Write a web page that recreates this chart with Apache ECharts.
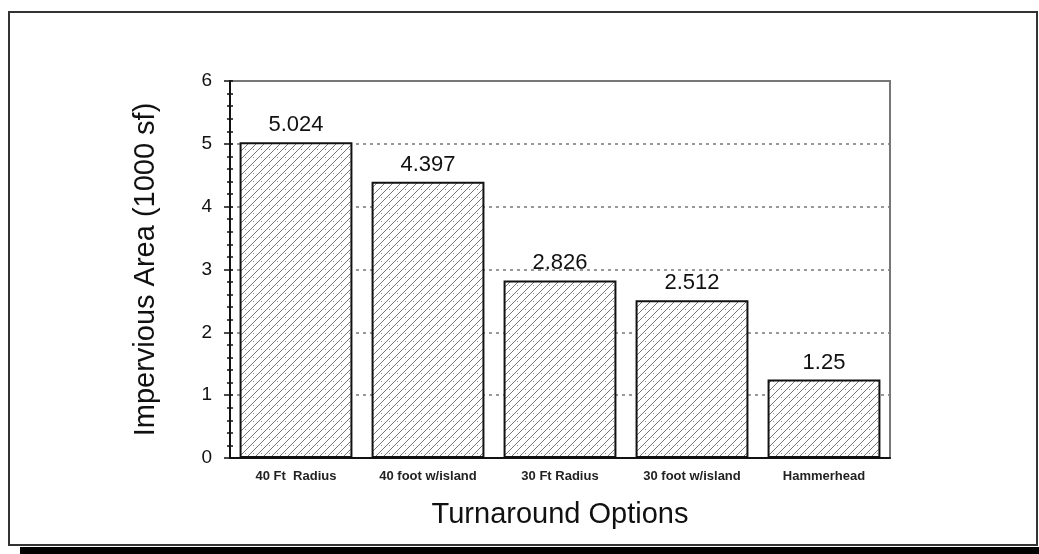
<!DOCTYPE html>
<html><head><meta charset="utf-8">
<script src="https://cdn.jsdelivr.net/npm/echarts@6/dist/echarts.min.js"></script>
<style>html,body{margin:0;padding:0;background:#fff}#c{width:1039px;height:554px}</style>
</head><body><div id="c"></div>
<script>
const categories = ['40 Ft  Radius', '40 foot w/island', '30 Ft Radius', '30 foot w/island', 'Hammerhead'];
const values = [5.024, 4.397, 2.826, 2.512, 1.25];
const valueLabels = ['5.024', '4.397', '2.826', '2.512', '1.25'];
const yTicks = [0, 1, 2, 3, 4, 5, 6];

const pc = document.createElement('canvas');
pc.width = 8; pc.height = 8;
const g = pc.getContext('2d');
g.fillStyle = '#fff'; g.fillRect(0, 0, 8, 8);
g.strokeStyle = '#777'; g.lineWidth = 1;
g.beginPath();
g.moveTo(-1, 9); g.lineTo(9, -1);
g.moveTo(-1, 1); g.lineTo(1, -1);
g.moveTo(7, 9); g.lineTo(9, 7);
g.stroke();
g.fillStyle = '#999';
g.fillRect(5, 5, 1, 1);

const chart = echarts.init(document.getElementById('c'), null, {renderer: 'canvas'});
const font = 'Liberation Sans, Arial, sans-serif';
chart.setOption({
  animation: false,
  backgroundColor: '#fff',
  grid: {left: 230, right: 149, top: 81, bottom: 96, show: true, borderColor: '#777', borderWidth: 2, backgroundColor: 'transparent'},
  graphic: [
    {type: 'rect', shape: {x: 9, y: 12, width: 1028, height: 533}, style: {fill: 'none', stroke: '#333', lineWidth: 2}, z: 100},
    {type: 'rect', shape: {x: 20, y: 547, width: 1019, height: 7}, style: {fill: '#000'}, z: 100}
  ],
  xAxis: {
    type: 'category', data: categories,
    name: 'Turnaround Options', nameLocation: 'middle', nameGap: 42,
    nameTextStyle: {fontFamily: font, fontSize: 29, color: '#111'},
    axisLine: {lineStyle: {color: '#111', width: 2}},
    axisTick: {show: false},
    axisLabel: {fontFamily: font, fontSize: 13, fontWeight: 'bold', color: '#222', margin: 12}
  },
  yAxis: [{
    type: 'value', min: 0, max: 6, interval: 1,
    name: 'Impervious Area (1000 sf)', nameLocation: 'middle', nameGap: 70,
    nameTextStyle: {fontFamily: font, fontSize: 29, color: '#111'},
    axisLine: {show: true, lineStyle: {color: '#111', width: 2}},
    axisTick: {show: true, length: 6, lineStyle: {color: '#111', width: 1.5}},
    minorTick: {show: true, splitNumber: 5, length: 3, lineStyle: {color: '#111', width: 1.5}},
    axisLabel: {fontFamily: font, fontSize: 19, color: '#111', margin: 18,
      formatter: v => yTicks.indexOf(v) >= 0 ? String(v) : ''},
    splitLine: {show: true, lineStyle: {color: '#777', type: [3, 4], width: 1.5}}
  }, {
    type: 'value', min: 0, max: 6, interval: 1, position: 'left',
    axisLine: {show: false},
    axisTick: {show: true, inside: true, length: 3, lineStyle: {color: '#111', width: 1.5}},
    minorTick: {show: true, splitNumber: 5, length: 3, lineStyle: {color: '#111', width: 1.5}},
    axisLabel: {show: false}, splitLine: {show: false}
  }],
  series: [{
    type: 'bar', data: values, barCategoryGap: '14.5%',
    itemStyle: {color: {image: pc, repeat: 'repeat'}, borderColor: '#111', borderWidth: 2},
    label: {show: true, position: 'top', distance: 6, fontFamily: font, fontSize: 22, color: '#111',
      formatter: p => valueLabels[p.dataIndex]}
  }]
});
</script></body></html>
